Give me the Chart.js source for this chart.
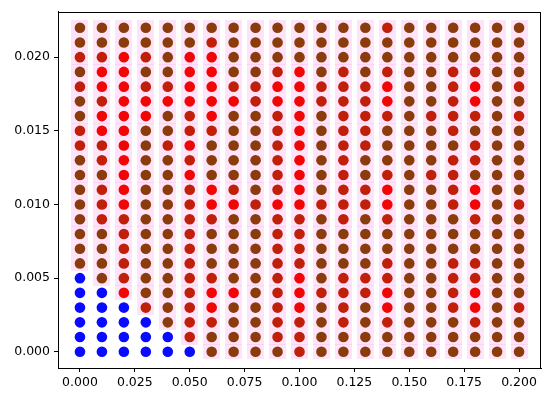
<!DOCTYPE html>
<html>
<head>
<meta charset="utf-8">
<script src="https://cdn.jsdelivr.net/npm/chart.js@4/dist/chart.umd.min.js"></script>
<style>
  html, body { margin: 0; padding: 0; background: #fff; }
  #wrap { width: 550px; height: 396px; }
</style>
</head>
<body>
<div id="wrap"><canvas id="myChart"></canvas></div>
<script>
const xValues = [0, 0.01, 0.02, 0.03, 0.04, 0.05, 0.06, 0.07, 0.08, 0.09, 0.10,
                 0.11, 0.12, 0.13, 0.14, 0.15, 0.16, 0.17, 0.18, 0.19, 0.20];
const yValues = [0, 0.001, 0.002, 0.003, 0.004, 0.005, 0.006, 0.007, 0.008, 0.009, 0.010, 0.011,
                 0.012, 0.013, 0.014, 0.015, 0.016, 0.017, 0.018, 0.019, 0.020, 0.021, 0.022];
// one string per row, top row (y = 0.022) first; b = blue, r = red, d = dark red, o = brown
const colorRows = [
    'ooooooo' + 'ooooooo' + 'doooooo',
    'ooooood' + 'ooooooo' + 'ooooooo',
    'ddrdorr' + 'ooooooo' + 'ooooooo',
    'orroorr' + 'oodrodo' + 'dooddoo',
    'drrddrr' + 'ddrrddd' + 'roodrod',
    'odrrrrr' + 'rdrrddd' + 'roodroo',
    'orrrodr' + 'oodrodd' + 'dodddod',
    'drroodd' + 'oodrodd' + 'ooodooo',
    'ddrodro' + 'oodrodd' + 'oooodoo',
    'odroodo' + 'oodrodo' + 'oooddoo',
    'oorooro' + 'oodrodo' + 'doddooo',
    'odroodr' + 'dodrodd' + 'roodroo',
    'odroodr' + 'rdrrddd' + 'roodrod',
    'oddoodd' + 'ooddodo' + 'dooodoo',
    'oodoodo' + 'ooddooo' + 'ooooooo',
    'oodoodo' + 'ooddooo' + 'ooooooo',
    'oodoodo' + 'ooddooo' + 'dooddoo',
    'bodoodd' + 'oodrodd' + 'dooddoo',
    'bbroodr' + 'rodrddd' + 'roodroo',
    'bbbdodr' + 'oodrodo' + 'roodrod',
    'bbbbodd' + 'ooddodo' + 'dooodoo',
    'bbbbbdo' + 'ooddooo' + 'ooooooo',
    'bbbbbbo' + 'ooodooo' + 'ooooooo'
];
const xTicks = [0, 0.025, 0.05, 0.075, 0.1, 0.125, 0.15, 0.175, 0.2];
const yTicks = [0, 0.005, 0.010, 0.015, 0.020];

const colors = { b: '#0a0aff', r: '#f20505', d: '#c0200a', o: '#8b3c0c' };

const groups = { b: [], r: [], d: [], o: [] };
const halo = [];
colorRows.forEach(function (row, k) {
    const y = yValues[yValues.length - 1 - k];
    for (let i = 0; i < row.length; i++) {
        const pt = { x: xValues[i], y: y };
        groups[row[i]].push(pt);
        if (row[i] !== 'b') halo.push(pt);
    }
});

// light pink square behind each non-blue dot
const haloImg = document.createElement('canvas');
haloImg.width = 17;
haloImg.height = 15;
const hctx = haloImg.getContext('2d');
hctx.fillStyle = 'rgba(255,165,235,0.3)';
hctx.fillRect(0, 0, 17, 15);

const dotSet = function (key, order) {
    return {
        data: groups[key],
        backgroundColor: colors[key],
        borderWidth: 0,
        pointRadius: 5.3,
        pointHoverRadius: 5.3,
        order: order
    };
};

const frame = {
    id: 'frame',
    afterDatasetsDraw: function (chart) {
        const a = chart.chartArea;
        const c = chart.ctx;
        c.save();
        c.strokeStyle = '#000';
        c.lineWidth = 1;
        c.strokeRect(Math.round(a.left) + 0.5, Math.round(a.top) + 0.5,
                     Math.round(a.right - a.left) - 1, Math.round(a.bottom - a.top) - 1);
        c.restore();
    }
};

const tickFont = { family: 'DejaVu Sans', size: 12.5 };

const config = {
    type: 'scatter',
    data: {
        datasets: [
            dotSet('b', 1),
            dotSet('r', 1),
            dotSet('d', 1),
            dotSet('o', 1),
            {
                data: halo,
                pointStyle: haloImg,
                pointRadius: 8,
                borderWidth: 0,
                order: 5
            }
        ]
    },
    options: {
        animation: false,
        responsive: true,
        maintainAspectRatio: false,
        events: [],
        layout: { padding: { top: 9, right: 9, left: 0, bottom: 0 } },
        plugins: { legend: { display: false }, tooltip: { enabled: false } },
        scales: {
            x: {
                type: 'linear',
                min: -0.01,
                max: 0.21,
                afterBuildTicks: function (scale) {
                    scale.ticks = xTicks.map(function (v) { return { value: v }; });
                },
                afterFit: function (scale) { scale.height = 28; },
                grid: { drawOnChartArea: false, color: '#000', tickLength: 4 },
                border: { color: '#000', width: 1 },
                ticks: {
                    color: '#000',
                    font: tickFont,
                    padding: 3,
                    maxRotation: 0,
                    callback: function (v) { return v.toFixed(3); }
                }
            },
            y: {
                type: 'linear',
                min: -0.0011,
                max: 0.0231,
                afterBuildTicks: function (scale) {
                    scale.ticks = yTicks.map(function (v) { return { value: v }; });
                },
                afterFit: function (scale) { scale.width = 58; },
                grid: { drawOnChartArea: false, color: '#000', tickLength: 4 },
                border: { color: '#000', width: 1 },
                ticks: {
                    color: '#000',
                    font: tickFont,
                    padding: 4,
                    callback: function (v) { return v.toFixed(3); }
                }
            }
        }
    },
    plugins: [frame]
};

const myChart = new Chart(document.getElementById('myChart'), config);
</script>
</body>
</html>
